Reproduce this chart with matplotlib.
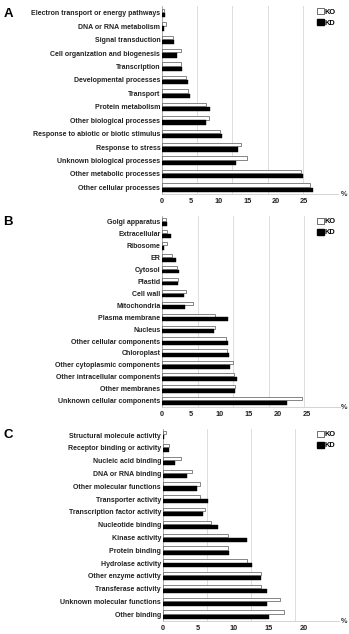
import matplotlib
matplotlib.use("Agg")
import matplotlib.pyplot as plt
from matplotlib.patches import Patch
import numpy as np

plt.rcParams['font.family'] = ['Liberation Sans', 'DejaVu Sans']
plt.rcParams['font.weight'] = 'bold'

# Panel A - biological processes (%)
bp_labels = ['Electron transport or energy pathways', 'DNA or RNA metabolism', 'Signal transduction',
             'Cell organization and biogenesis', 'Transcription', 'Developmental processes', 'Transport',
             'Protein metabolism', 'Other biological processes', 'Response to abiotic or biotic stimulus',
             'Response to stress', 'Unknown biological processes', 'Other metabolic processes',
             'Other cellular processes']
bp_ko = [0.3, 0.7, 1.9, 3.3, 3.3, 4.2, 4.6, 7.7, 8.2, 10.2, 13.9, 15.0, 24.4, 26.1]
bp_kd = [0.5, 0.4, 2.1, 2.6, 3.6, 4.6, 5.0, 8.5, 7.8, 10.6, 13.3, 13.1, 24.8, 26.6]

# Panel B - cellular components (%)
cc_labels = ['Golgi apparatus', 'Extracellular', 'Ribosome', 'ER', 'Cytosol', 'Plastid', 'Cell wall',
             'Mitochondria', 'Plasma membrane', 'Nucleus', 'Other cellular components', 'Chloroplast',
             'Other cytoplasmic components', 'Other intracellular components', 'Other membranes',
             'Unknown cellular components']
cc_ko = [0.7, 0.8, 0.9, 1.8, 2.6, 2.8, 4.2, 5.3, 9.2, 9.2, 11.0, 11.2, 12.3, 12.5, 12.6, 24.3]
cc_kd = [0.8, 1.5, 0.4, 2.4, 2.9, 2.7, 3.8, 3.9, 11.5, 9.0, 11.5, 11.6, 11.8, 12.9, 12.6, 21.7]

# Panel C - molecular functions (%)
mf_labels = ['Structural molecule activity', 'Receptor binding or activity', 'Nucleic acid binding',
             'DNA or RNA binding', 'Other molecular functions', 'Transporter activity',
             'Transcription factor activity', 'Nucleotide binding', 'Kinase activity', 'Protein binding',
             'Hydrolase activity', 'Other enzyme activity', 'Transferase activity',
             'Unknown molecular functions', 'Other binding']
mf_ko = [0.5, 0.9, 2.6, 4.1, 5.3, 5.3, 6.0, 6.8, 9.2, 9.3, 12.0, 13.9, 13.9, 16.7, 17.2]
mf_kd = [0.2, 0.9, 1.7, 3.4, 4.8, 6.4, 5.7, 7.9, 12.0, 9.4, 12.6, 13.9, 14.8, 14.8, 15.1]

W, H = 349, 634
fig = plt.figure(figsize=(W / 100, H / 100), dpi=100)

# (letter, labels, ko, kd, left px, top px, right px, bottom px, xmax, grid step, xticks, letter y px)
panels = [
    ('A', bp_labels, bp_ko, bp_kd, 162, 6, 338, 194, 31.0, 6.2, [0, 5, 10, 15, 20, 25], 14),
    ('B', cc_labels, cc_ko, cc_kd, 162, 215.7, 340, 406.7, 30.8, 6.15, [0, 5, 10, 15, 20, 25], 222),
    ('C', mf_labels, mf_ko, mf_kd, 162.7, 428.6, 339, 620.7, 25.0, 6.25, [0, 5, 10, 15, 20], 435),
]

for letter, labels, ko, kd, l, t, r, b, xmax, gstep, xticks, ly in panels:
    ax = fig.add_axes([l / W, 1 - b / H, (r - l) / W, (b - t) / H])
    y = np.arange(len(labels))
    ax.barh(y - 0.17, ko, height=0.26, color='white', edgecolor='#555555', linewidth=0.5, zorder=3)
    ax.barh(y + 0.18, kd, height=0.32, color='black', edgecolor='black', linewidth=0.3, zorder=3)
    ax.set_ylim(len(labels) - 0.5, -0.5)
    ax.set_xlim(0, xmax)
    ax.set_yticks(y)
    ax.set_yticklabels(labels, fontsize=5.0, fontweight='bold', color='#222222')
    ax.set_xticks(xticks)
    ax.set_xticklabels([str(v) for v in xticks], fontsize=5.3, fontweight='bold', color='#222222')
    ax.tick_params(axis='both', length=0, pad=1.2)
    ax.tick_params(axis='x', pad=3)
    for g in np.arange(gstep, xmax + 0.01, gstep):
        ax.axvline(g, color='#d8d8d8', linewidth=0.6, zorder=1)
    for side in ['top', 'right']:
        ax.spines[side].set_visible(False)
    ax.spines['left'].set_color('#888888')
    ax.spines['left'].set_linewidth(0.5)
    ax.spines['bottom'].set_color('#cccccc')
    ax.spines['bottom'].set_linewidth(0.6)
    fig.text(344 / W, 1 - (b + 1) / H, '%', fontsize=5.3, color='#333333', ha='center', va='center')
    fig.text(8 / W, 1 - ly / H, letter, fontsize=9.5, fontweight='bold', ha='center', va='center')
    handles = [Patch(facecolor='white', edgecolor='#333333', linewidth=0.5, label='KO'),
               Patch(facecolor='black', edgecolor='black', label='KD')]
    ax.legend(handles=handles, loc='upper left', bbox_to_anchor=(317 / W, 1 - (t + 2) / H),
              bbox_transform=fig.transFigure, frameon=False, fontsize=5.3, handlelength=0.9,
              handleheight=0.9, handletextpad=0.15, labelspacing=0.45, borderpad=0, borderaxespad=0)

fig.savefig('out.png', dpi=100)
